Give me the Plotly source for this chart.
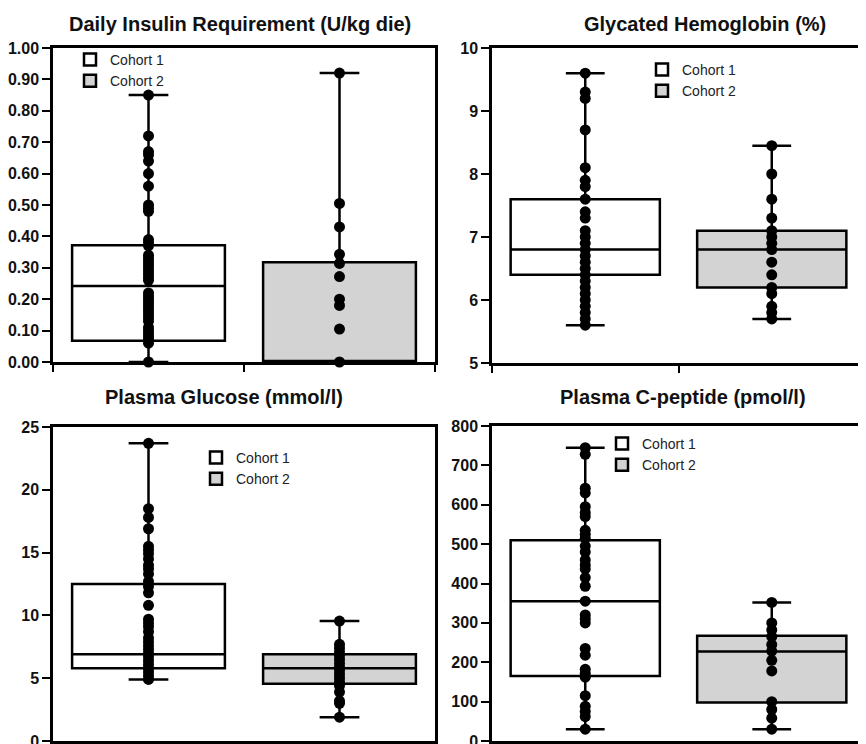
import plotly.graph_objects as go

# ---------------- data ----------------
titles = ["Daily Insulin Requirement (U/kg die)", "Glycated Hemoglobin (%)",
          "Plasma Glucose (mmol/l)", "Plasma C-peptide (pmol/l)"]
cohort_names = ["Cohort 1", "Cohort 2"]
positions = [0.5, 1.5]

# insulin
ins_c1 = [0.85, 0.72, 0.67, 0.66, 0.64, 0.60, 0.56, 0.50, 0.49, 0.48,
          0.39, 0.38, 0.37, 0.34, 0.33, 0.32, 0.31, 0.30, 0.29, 0.28, 0.27, 0.26,
          0.22, 0.21, 0.20, 0.19, 0.18, 0.17, 0.16, 0.15, 0.14, 0.13,
          0.11, 0.10, 0.09, 0.08, 0.07, 0.06, 0.0]
ins_c2 = [0.92, 0.505, 0.43, 0.343, 0.314, 0.272, 0.20, 0.18, 0.105, 0.0]
ins_stats = {"q1": [0.068, 0.0], "median": [0.242, 0.0], "q3": [0.372, 0.318],
             "lower": [0.0, 0.0], "upper": [0.85, 0.92]}

# HbA1c
hb_c1 = [9.6, 9.3, 9.2, 8.7, 8.1, 7.9, 7.8, 7.6, 7.4, 7.3,
         7.1, 7.0, 6.9, 6.8, 6.7, 6.6, 6.5, 6.4, 6.3, 6.2, 6.1, 6.0, 5.9, 5.8, 5.7, 5.6]
hb_c2 = [8.45, 8.0, 7.6, 7.3, 7.1, 7.0, 6.9, 6.8, 6.6, 6.4, 6.2, 6.1, 5.9, 5.8, 5.7]
hb_stats = {"q1": [6.4, 6.2], "median": [6.8, 6.8], "q3": [7.6, 7.1],
            "lower": [5.6, 5.7], "upper": [9.6, 8.45]}

# glucose
glu_c1 = [23.7, 18.5, 17.8, 16.9, 15.5, 15.2, 14.9, 14.5, 14.0, 13.7, 13.3, 12.7, 12.3, 11.8,
          10.8, 9.7, 9.4, 9.1, 8.7, 8.2, 7.9, 7.6, 7.3, 7.0, 6.7, 6.4, 6.1, 5.8, 5.5, 5.2, 4.9]
glu_c2 = [9.55, 7.7, 7.4, 7.1, 6.8, 6.5, 6.2, 5.9, 5.6, 5.3, 5.0, 4.7, 4.4, 3.9, 3.2, 3.0, 1.9]
glu_stats = {"q1": [5.8, 4.55], "median": [6.9, 5.8], "q3": [12.5, 6.9],
             "lower": [4.9, 1.9], "upper": [23.7, 9.55]}

# C-peptide
cp_c1 = [745, 728, 642, 630, 595, 580, 570, 535, 525, 515, 495, 480, 460, 447, 437,
         415, 393, 355, 320, 310, 300, 235, 218, 182, 172, 162, 115, 88, 75, 62, 30]
cp_c2 = [352, 300, 282, 265, 245, 228, 205, 178, 100, 80, 58, 30]
cp_stats = {"q1": [165, 98], "median": [355, 227], "q3": [510, 267],
            "lower": [30, 30], "upper": [745, 352]}

panels = [
    (ins_c1, ins_c2, ins_stats, [0, 1.0], 0.1, ".2f"),
    (hb_c1, hb_c2, hb_stats, [5, 10], 1, "d"),
    (glu_c1, glu_c2, glu_stats, [0, 25], 5, "d"),
    (cp_c1, cp_c2, cp_stats, [0, 800], 100, "d"),
]

# ---------------- layout geometry ----------------
# page has an 8px body margin: figure is 858x736 placed at (8, 8) in the 866x744 window
OFF = 8
W, H = 866 - OFF, 744 - OFF


def px(x):
    return (x - OFF) / W


def py(y):
    return 1 - (y - OFF) / H


fill_colors = ["#ffffff", "#d3d3d3"]
x_dom = [[px(53), px(435)], [px(492), px(865)], [px(53), px(435)], [px(492), px(865)]]
y_dom = [[py(362), py(48)], [py(363), py(48)], [py(741), py(427)], [py(741), py(426)]]
title_pos = [(240, 24), (705, 24), (224, 397), (683, 397)]
legend_pos = [(70, 44), (642, 54), (196, 442), (602, 428)]

FONT = "Liberation Sans, Arial, sans-serif"

fig = go.Figure()
layout = dict(width=W, height=H, margin=dict(l=0, r=0, t=0, b=0, pad=0, autoexpand=False),
              paper_bgcolor="white", plot_bgcolor="white", showlegend=True,
              annotations=[])

for i, (c1, c2, st, yr, dt, fmt) in enumerate(panels):
    k = "" if i == 0 else str(i + 1)
    xa, ya = "x" + k, "y" + k
    leg = "legend" + k
    for j in range(2):
        fig.add_trace(go.Box(
            x=[positions[j]], q1=[st["q1"][j]], median=[st["median"][j]], q3=[st["q3"][j]],
            lowerfence=[st["lower"][j]], upperfence=[st["upper"][j]],
            width=0.8, whiskerwidth=0.26, fillcolor=fill_colors[j],
            line=dict(color="black", width=2.5), name=cohort_names[j],
            boxpoints=False, xaxis=xa, yaxis=ya, legend=leg, hoverinfo="skip"))
    for j, vals in enumerate([c1, c2]):
        fig.add_trace(go.Scatter(
            x=[positions[j]] * len(vals), y=vals, mode="markers",
            marker=dict(color="black", size=11), showlegend=False,
            cliponaxis=False, xaxis=xa, yaxis=ya, hoverinfo="skip"))

    layout["xaxis" + k] = dict(domain=x_dom[i], range=[0, 2], tickvals=[0, 1, 2],
                              ticktext=["", "", ""], ticks="outside", ticklen=7,
                              tickwidth=2, tickcolor="black", showline=True,
                              linecolor="black", linewidth=2.5, mirror=True,
                              showgrid=False, zeroline=False, anchor=ya, fixedrange=True,
                              automargin=False)
    layout["yaxis" + k] = dict(domain=y_dom[i], range=yr, dtick=dt, tick0=yr[0],
                              tickformat=fmt, ticks="outside", ticklen=8, tickwidth=2,
                              tickcolor="black", showline=True, linecolor="black",
                              linewidth=2.5, mirror=True, showgrid=False, zeroline=False,
                              anchor=xa, automargin=False, ticklabeloverflow="allow",
                              tickfont=dict(family=FONT, size=16, color="#111", weight="bold"))
    lx, ly = legend_pos[i]
    layout[leg] = dict(x=px(lx), y=py(ly), xanchor="left", yanchor="top",
                       bgcolor="rgba(0,0,0,0)", borderwidth=0, itemwidth=30,
                       tracegroupgap=0,
                       font=dict(family=FONT, size=14, color="#222"))
    tx, ty = title_pos[i]
    layout["annotations"].append(dict(
        text=titles[i], x=px(tx), y=py(ty), xref="paper", yref="paper",
        xanchor="center", yanchor="middle", showarrow=False,
        font=dict(family=FONT, size=20, color="#111", weight="bold")))

fig.update_layout(**layout)
fig.write_html("out.html")
